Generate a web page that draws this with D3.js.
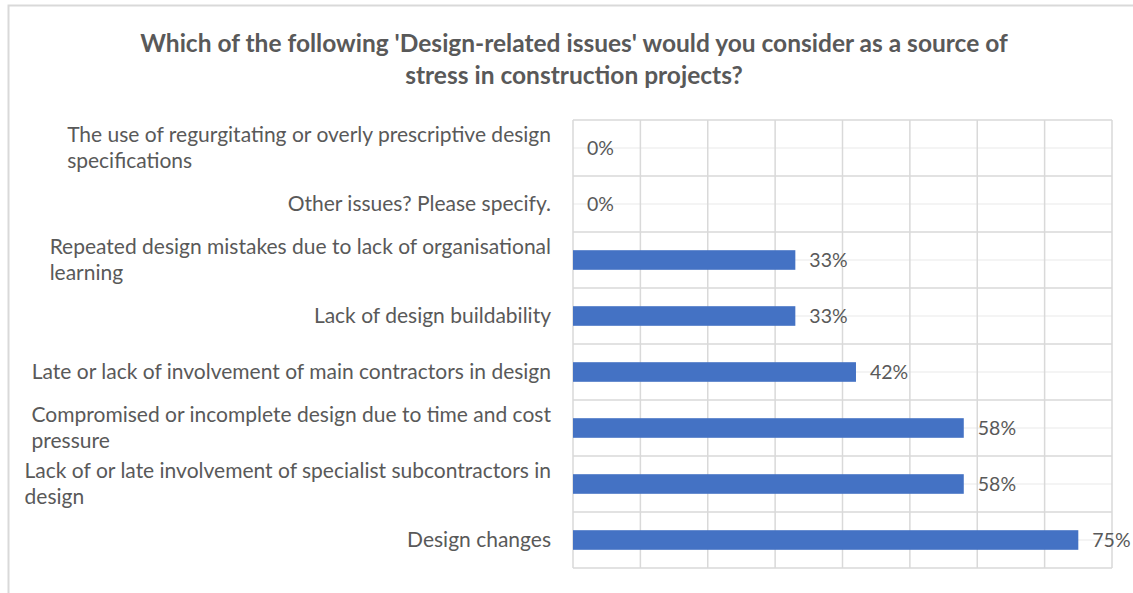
<!DOCTYPE html>
<html>
<head>
<meta charset="utf-8">
<script src="https://cdn.jsdelivr.net/npm/d3@7"></script>
<style>
  body { margin: 0; background: #fff; }
  svg { display: block; font-family: Lato, "Open Sans", sans-serif; }
</style>
</head>
<body>
<svg id="chart" width="1133" height="593"></svg>
<script>
const titleLines = [
  "Which of the following 'Design-related issues' would you consider as a source of",
  "stress in construction projects?"
];

// top to bottom, as shown
const categories = [
  ["The use of regurgitating or overly prescriptive design", "specifications"],
  ["Other issues? Please specify."],
  ["Repeated design mistakes due to lack of organisational", "learning"],
  ["Lack of design buildability"],
  ["Late or lack of involvement of main contractors in design"],
  ["Compromised or incomplete design due to time and cost", "pressure"],
  ["Lack of or late involvement of specialist subcontractors in", "design"],
  ["Design changes"]
];
const values = [0, 0, 33, 33, 42, 58, 58, 75];
const xTicks = [0, 10, 20, 30, 40, 50, 60, 70, 80];

const W = 1133, H = 593;
const plot = { left: 573, top: 120, right: 1112, bottom: 568 };
const textColor = "#595959";
const gridColor = "#d9d9d9";

const svg = d3.select("#chart");

// chart frame
svg.append("rect")
  .attr("x", 8.5).attr("y", 5.5)
  .attr("width", W + 20).attr("height", H + 20)
  .attr("fill", "none")
  .attr("stroke", gridColor)
  .attr("stroke-width", 2);

// title
svg.append("g")
  .selectAll("text")
  .data(titleLines)
  .enter()
  .append("text")
  .attr("x", 574)
  .attr("y", (d, i) => 52 + i * 32)
  .attr("text-anchor", "middle")
  .style("font-size", "24.5px")
  .style("font-weight", "bold")
  .style("fill", textColor)
  .text(d => d);

const x = d3.scaleLinear().domain([0, 80]).range([plot.left, plot.right]);
const y = d3.scaleBand()
  .domain(d3.range(categories.length))
  .range([plot.top, plot.bottom])
  .paddingInner(0.65)
  .paddingOuter(0.325);

const step = y.step();
const bandTop = i => y(i) - y.paddingOuter() * step;
const mid = i => y(i) + y.bandwidth() / 2;

const grid = svg.append("g");

// faint centre lines
grid.selectAll(".mid")
  .data(d3.range(categories.length))
  .enter()
  .append("line")
  .attr("x1", plot.left).attr("x2", plot.right)
  .attr("y1", i => mid(i)).attr("y2", i => mid(i))
  .attr("stroke", "#f0f0f0")
  .attr("stroke-width", 1.5);

// row boundaries
grid.selectAll(".row")
  .data(d3.range(categories.length + 1))
  .enter()
  .append("line")
  .attr("x1", plot.left).attr("x2", plot.right)
  .attr("y1", i => i < categories.length ? bandTop(i) : plot.bottom)
  .attr("y2", i => i < categories.length ? bandTop(i) : plot.bottom)
  .attr("stroke", gridColor)
  .attr("stroke-width", 1.5);

// value gridlines
grid.selectAll(".vx")
  .data(xTicks)
  .enter()
  .append("line")
  .attr("x1", d => x(d)).attr("x2", d => x(d))
  .attr("y1", plot.top).attr("y2", plot.bottom)
  .attr("stroke", gridColor)
  .attr("stroke-width", 1.5);

// bars
svg.append("g")
  .selectAll("rect")
  .data(values)
  .enter()
  .append("rect")
  .attr("x", x(0))
  .attr("y", (d, i) => y(i))
  .attr("width", d => x(d) - x(0))
  .attr("height", y.bandwidth())
  .attr("fill", "#4472c4");

// data labels
svg.append("g")
  .selectAll("text")
  .data(values)
  .enter()
  .append("text")
  .attr("x", d => x(d) + 14)
  .attr("y", (d, i) => mid(i))
  .attr("dy", "0.35em")
  .style("font-size", "19.5px")
  .style("fill", textColor)
  .text(d => d + "%");

// category labels: block right-aligned, lines left-aligned
const labelRight = 551;
const lineGap = 26;
const labels = svg.append("g")
  .selectAll("g")
  .data(categories)
  .enter()
  .append("g");

labels.each(function(lines, i) {
  const g = d3.select(this);
  const texts = g.selectAll("text")
    .data(lines)
    .enter()
    .append("text")
    .attr("y", (d, j) => mid(i) + (j - (lines.length - 1) / 2) * lineGap)
    .attr("dy", "0.35em")
    .style("font-size", "21px")
    .style("fill", textColor)
    .text(d => d);
  const maxW = d3.max(texts.nodes(), n => n.getComputedTextLength());
  texts.attr("x", labelRight - maxW);
});
</script>
</body>
</html>
